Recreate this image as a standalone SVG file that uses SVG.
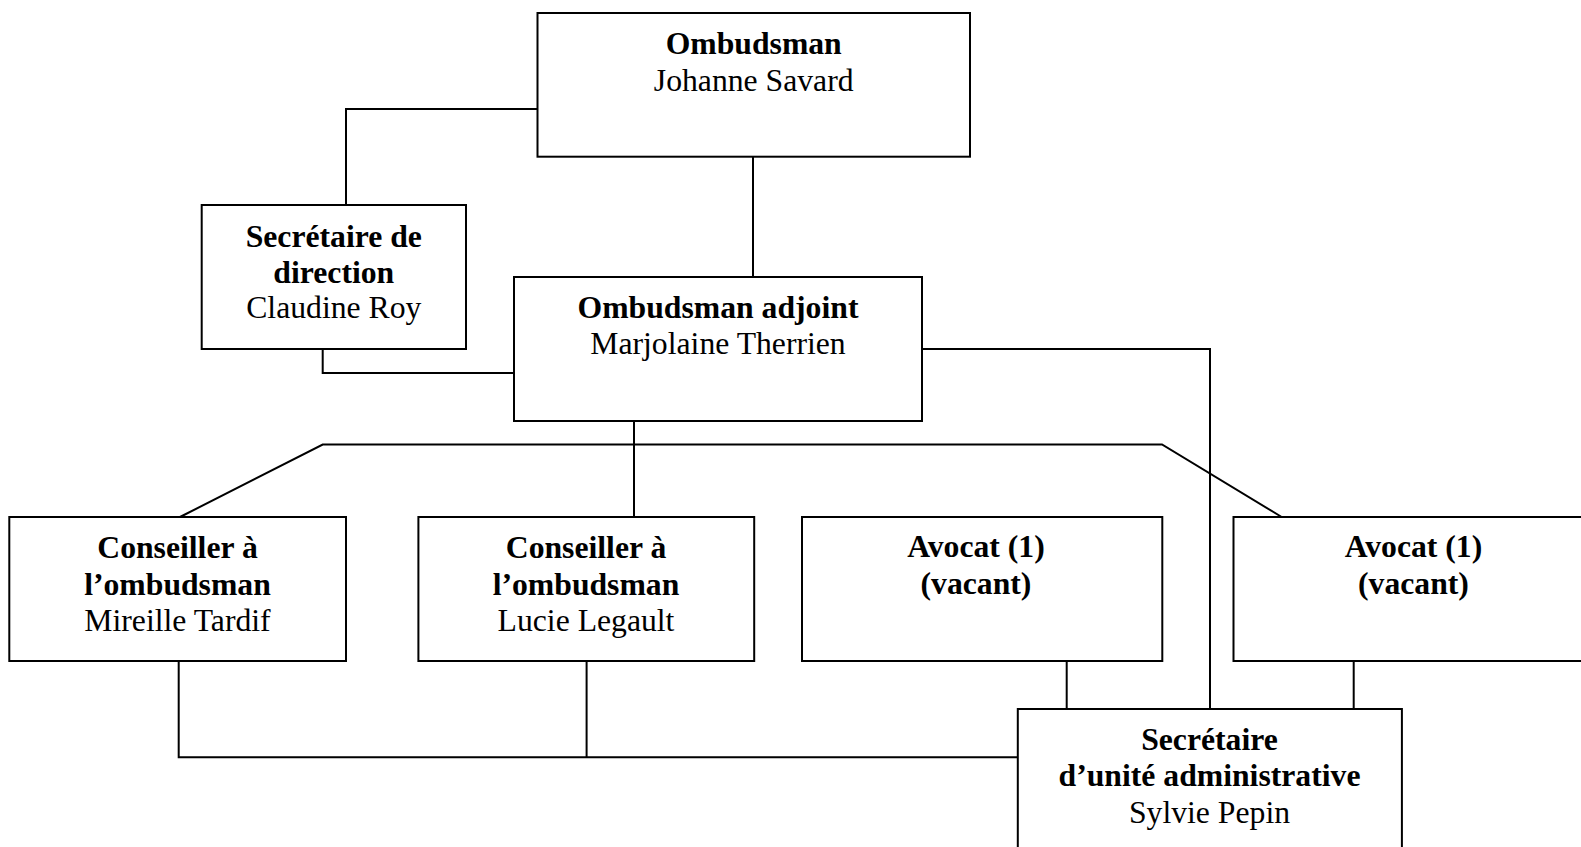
<svg xmlns="http://www.w3.org/2000/svg" width="1581" height="847" viewBox="0 0 1581 847">
<style>
.box{fill:#fff;stroke:#000;stroke-width:2}
.c{fill:none;stroke:#000;stroke-width:2}
text{font-family:"Liberation Serif","Times New Roman",serif;font-size:31.7px;text-anchor:middle;fill:#000}
.b{font-weight:bold}
</style>
<rect width="1581" height="847" fill="#fff"/>
<g id="connectors">
<path class="c" d="M538,109 H346 V205"/>
<path class="c" d="M753,157 V277"/>
<path class="c" d="M322.7,349 V373 H514"/>
<path class="c" d="M634,421 V517"/>
<path class="c" d="M180,517 L322.7,444.5 H1162 L1281.7,517"/>
<path class="c" d="M922,349 H1210 V709"/>
<path class="c" d="M1066.7,661 V709"/>
<path class="c" d="M1353.7,661 V709"/>
<path class="c" d="M178.7,661 V757.3 H1018"/>
<path class="c" d="M586.6,661 V757.3"/>
</g>
<g id="ombudsman">
<rect class="box" x="537.5" y="13" width="432.5" height="143.7"/>
<text class="b" x="753.7" y="53.5">Ombudsman</text>
<text x="753.7" y="90.7">Johanne Savard</text>
</g>
<g id="secretaire-direction">
<rect class="box" x="201.7" y="205" width="264.3" height="144"/>
<text class="b" x="333.8" y="246.7">Secrétaire de</text>
<text class="b" x="333.8" y="282.7">direction</text>
<text x="333.8" y="317.7">Claudine Roy</text>
</g>
<g id="ombudsman-adjoint">
<rect class="box" x="514" y="277" width="408" height="144"/>
<text class="b" x="718" y="318.3">Ombudsman adjoint</text>
<text x="718" y="354.3">Marjolaine Therrien</text>
</g>
<g id="conseiller-1">
<rect class="box" x="9.3" y="517" width="336.7" height="144"/>
<text class="b" x="177.5" y="558.3">Conseiller à</text>
<text class="b" x="177.5" y="595">l’ombudsman</text>
<text x="177.5" y="631">Mireille Tardif</text>
</g>
<g id="conseiller-2">
<rect class="box" x="418.4" y="517" width="335.8" height="144"/>
<text class="b" x="586" y="558.3">Conseiller à</text>
<text class="b" x="586" y="595">l’ombudsman</text>
<text x="586" y="631">Lucie Legault</text>
</g>
<g id="avocat-1">
<rect class="box" x="802" y="517" width="360.3" height="144"/>
<text class="b" x="976" y="557.3">Avocat (1)</text>
<text class="b" x="976" y="594">(vacant)</text>
</g>
<g id="avocat-2">
<rect class="box" x="1233.5" y="517" width="362" height="144"/>
<text class="b" x="1413.5" y="557.3">Avocat (1)</text>
<text class="b" x="1413.5" y="594">(vacant)</text>
</g>
<g id="secretaire-unite">
<rect class="box" x="1017.8" y="709" width="384.1" height="160"/>
<text class="b" x="1209.5" y="750">Secrétaire</text>
<text class="b" x="1209.5" y="786">d’unité administrative</text>
<text x="1209.5" y="822.7">Sylvie Pepin</text>
</g>
</svg>
